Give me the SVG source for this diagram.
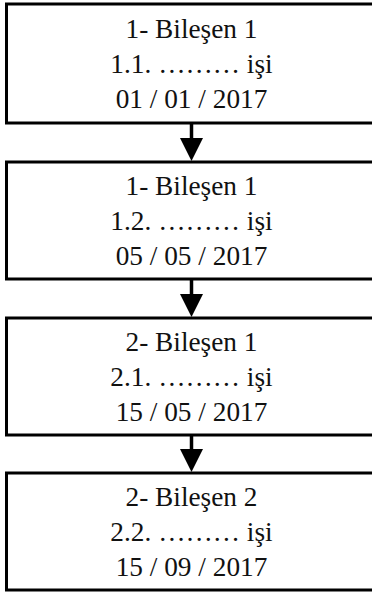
<svg xmlns="http://www.w3.org/2000/svg" width="372" height="593" viewBox="0 0 372 593">
<style>
.box{fill:#fff;stroke:#000;stroke-width:3}
.t{font-family:'Liberation Serif','Times New Roman',Times,serif;font-size:27.3px;fill:#111;text-anchor:middle}
.shaft{stroke:#000;stroke-width:3.5}
.head{fill:#000}
</style>
<rect width="372" height="593" fill="#fff"/>
<g id="node1">
<rect class="box" x="6.5" y="4" width="370" height="119"/>
<text class="t" x="191.5" y="38">1- Bileşen 1</text>
<text class="t" x="191.5" y="73">1.1. ……… işi</text>
<text class="t" x="191.5" y="108">01 / 01 / 2017</text>
</g>
<g id="node2">
<rect class="box" x="6.5" y="162" width="370" height="117"/>
<text class="t" x="191.5" y="195">1- Bileşen 1</text>
<text class="t" x="191.5" y="230">1.2. ……… işi</text>
<text class="t" x="191.5" y="265">05 / 05 / 2017</text>
</g>
<g id="node3">
<rect class="box" x="6.5" y="318" width="370" height="117"/>
<text class="t" x="191.5" y="351">2- Bileşen 1</text>
<text class="t" x="191.5" y="386">2.1. ……… işi</text>
<text class="t" x="191.5" y="421">15 / 05 / 2017</text>
</g>
<g id="node4">
<rect class="box" x="6.5" y="473" width="370" height="117"/>
<text class="t" x="191.5" y="506">2- Bileşen 2</text>
<text class="t" x="191.5" y="541">2.2. ……… işi</text>
<text class="t" x="191.5" y="576">15 / 09 / 2017</text>
</g>
<g id="connectors">
<line class="shaft" x1="191.5" y1="124" x2="191.5" y2="140"/>
<polygon class="head" points="180,138 203,138 191.5,161"/>
<line class="shaft" x1="191.5" y1="280" x2="191.5" y2="296"/>
<polygon class="head" points="180,294 203,294 191.5,317"/>
<line class="shaft" x1="191.5" y1="436" x2="191.5" y2="451"/>
<polygon class="head" points="180,449 203,449 191.5,472"/>
</g>
</svg>
